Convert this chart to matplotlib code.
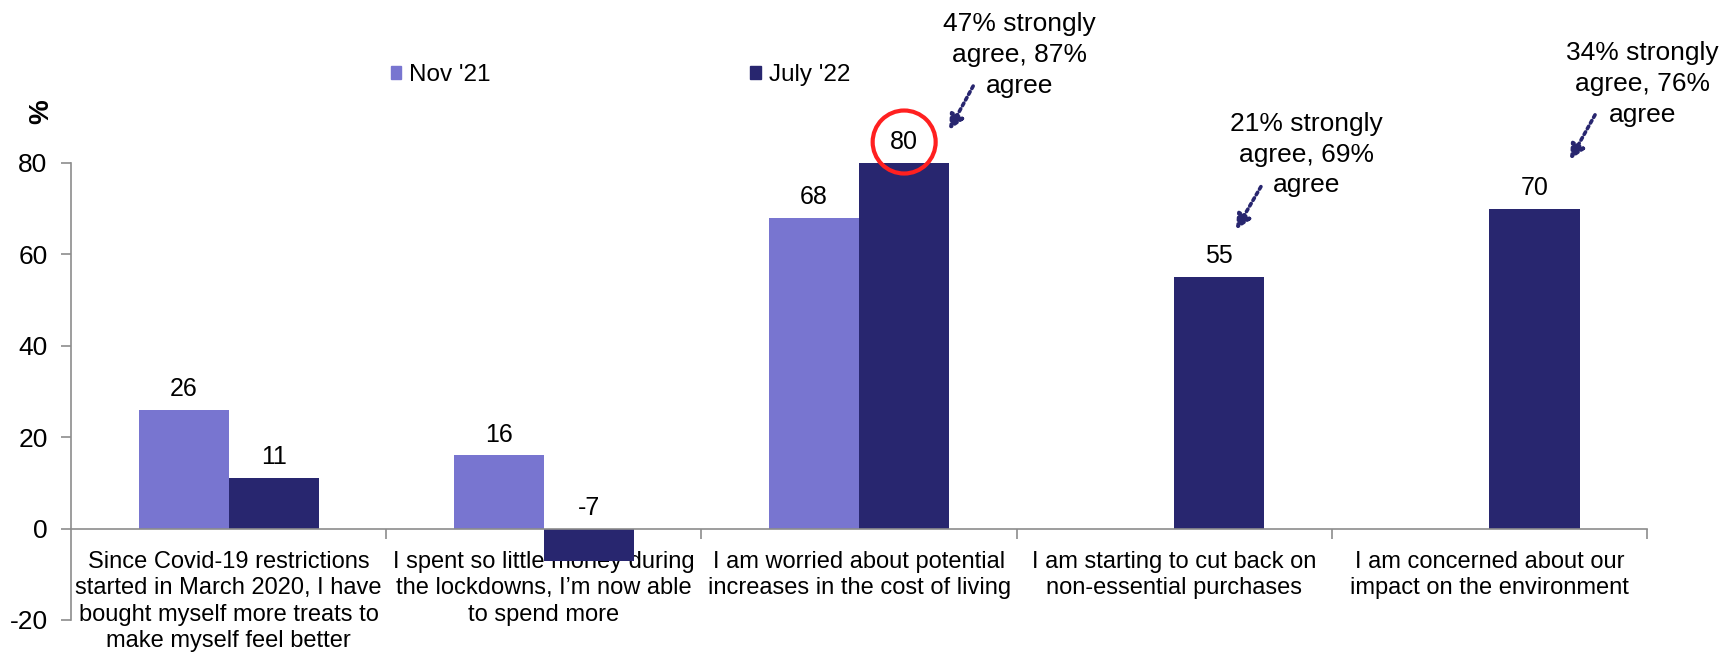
import numpy as np
import matplotlib.pyplot as plt
from matplotlib.patches import Patch

plt.rcParams['font.family'] = ['Liberation Sans', 'DejaVu Sans']
plt.rcParams['axes.unicode_minus'] = False

categories = [
    "Since Covid-19 restrictions\nstarted in March 2020, I have\nbought myself more treats to\nmake myself feel better",
    "I spent so little money during\nthe lockdowns, I\u2019m now able\nto spend more",
    "I am worried about potential\nincreases in the cost of living",
    "I am starting to cut back on\nnon-essential purchases",
    "I am concerned about our\nimpact on the environment",
]
nov21 = [26, 16, 68, np.nan, np.nan]
july22 = [11, -7, 80, 55, 70]
series_names = ["Nov '21", "July '22"]
notes = [
    "47% strongly\nagree, 87%\nagree",
    "21% strongly\nagree, 69%\nagree",
    "34% strongly\nagree, 76%\nagree",
]
note_cats = [2, 3, 4]
highlight_cat = 2

# placement of the notes relative to the July bar of their category
note_text_off = [(0.51, 23.6), (0.42, 26.8), (0.485, 27.3)]
note_arrow_start = [(0.362, 16.8), (0.275, 19.8), (0.335, 20.5)]
note_arrow_end = [(0.286, 7.2), (0.196, 10.4), (0.256, 10.7)]

nov_color = "#7875D0"
july_color = "#28266F"
axis_color = "#8C8C8C"

fig = plt.figure(figsize=(17.35, 6.54), dpi=100)
ax = fig.add_axes([0.041, 0.052, 0.9083, 0.699])

x = np.arange(len(categories))
w = 0.286
ax.bar(x - w / 2, nov21, w, color=nov_color, zorder=2)
ax.bar(x + w / 2, july22, w, color=july_color, zorder=2)

# value labels, always above the bar top (or above zero for negatives)
for k, (xs, vals) in enumerate([(x - w / 2, nov21), (x + w / 2, july22)]):
    for i, (xi, v) in enumerate(zip(xs, vals)):
        if np.isnan(v):
            continue
        kw = {}
        if k == 1 and i == highlight_cat:
            kw["bbox"] = dict(boxstyle="circle,pad=0.7", fc="none", ec="#FF2020", lw=3)
        ax.annotate(f"{v:g}", xy=(xi, max(v, 0)), xytext=(0, 15), textcoords="offset points",
                    ha="center", va="center", fontsize=18, annotation_clip=False, **kw)

# side notes with dotted arrows
for n, (ci, txt) in enumerate(zip(note_cats, notes)):
    top = july22[ci]
    dx, dy = note_text_off[n]
    ax.text(ci + dx, top + dy, txt, ha="center", va="center", fontsize=19,
            linespacing=1.36, clip_on=False)
    sx, sy = note_arrow_start[n]
    ex, ey = note_arrow_end[n]
    ax.annotate("", xy=(ci + ex, top + ey), xytext=(ci + sx, top + sy),
                arrowprops=dict(arrowstyle="-|>", color=july_color, lw=2.6,
                                linestyle=(0, (0.8, 1.0)), mutation_scale=22,
                                shrinkA=0, shrinkB=0),
                annotation_clip=False)

ax.set_xlim(-0.5, len(categories) - 0.5)
ax.set_ylim(-20, 80)
ax.set_yticks([-20, 0, 20, 40, 60, 80])
ax.tick_params(axis="y", labelsize=19, length=7, width=1.2, color=axis_color, pad=10)

ax.spines["top"].set_visible(False)
ax.spines["right"].set_visible(False)
ax.spines["left"].set_color(axis_color)
ax.spines["left"].set_linewidth(1.2)
ax.spines["bottom"].set_position(("data", 0))
ax.spines["bottom"].set_color(axis_color)
ax.spines["bottom"].set_linewidth(1.2)

ax.set_xticks(x)
ax.set_xticklabels(categories, fontsize=17, linespacing=1.26)
ax.set_xticks(np.arange(0.5, len(categories)), minor=True)
ax.tick_params(axis="x", which="major", length=0, pad=16)
ax.tick_params(axis="x", which="minor", length=7, width=1.2, color=axis_color)

fig.text(0.0235, 0.83, "%", rotation=90, fontsize=20, fontweight="bold", ha="center", va="center")

handles = [Patch(color=nov_color), Patch(color=july_color)]
fig.legend(handles, series_names, loc="center left", bbox_to_anchor=(0.2195, 0.885), ncol=2,
           frameon=False, fontsize=17.5, handlelength=0.45, handleheight=0.45,
           handletextpad=0.3, columnspacing=10.7, borderaxespad=0)

fig.savefig("out.png", dpi=100)
